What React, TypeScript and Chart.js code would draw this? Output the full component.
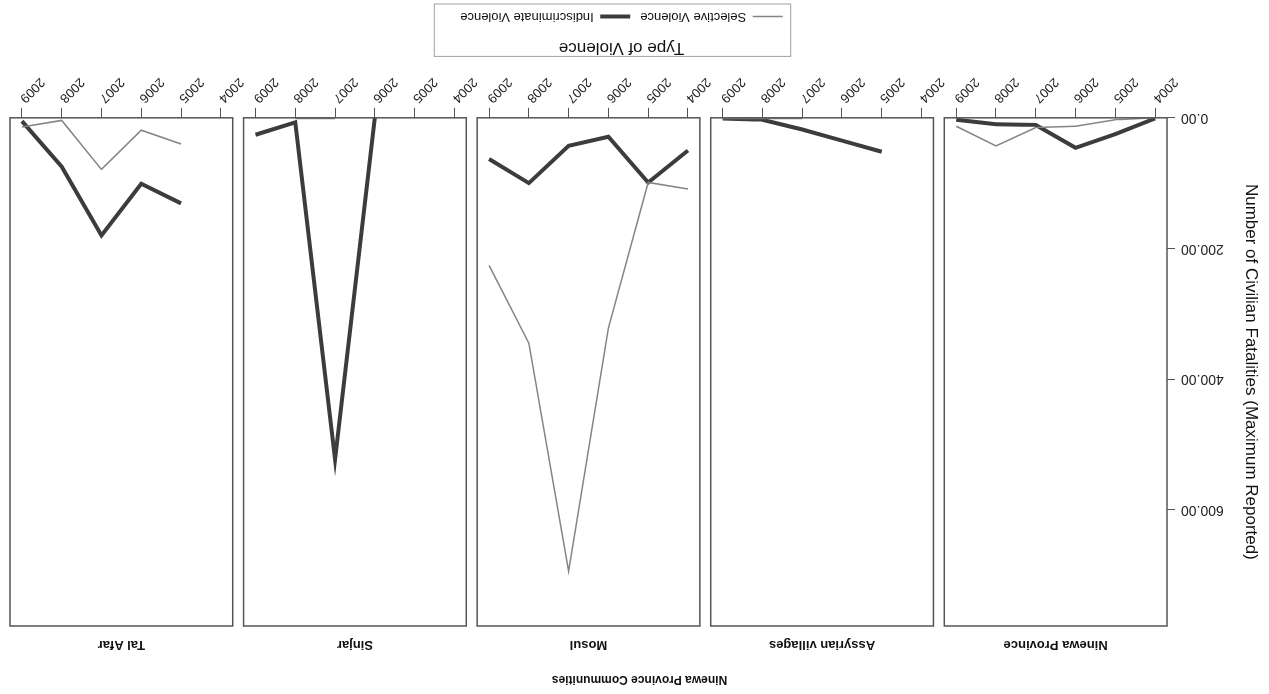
import React, { useEffect, useRef } from 'react';
import { Chart, registerables } from 'chart.js';

Chart.register(...registerables);

// ---------- data ----------
const YEARS = [2004, 2005, 2006, 2007, 2008, 2009];
const YEAR_LABELS = ['2004', '2005', '2006', '2007', '2008', '2009'];
const COMMUNITIES = ['Ninewa Province', 'Assyrian villages', 'Mosul', 'Sinjar', 'Tal Afar'];

const NINEWA_INDISCRIMINATE = [1, 25, 46, 11, 10, 3];
const NINEWA_SELECTIVE = [0, 3, 13, 15, 43, 13];
const ASSYRIAN_INDISCRIMINATE = [null, 52, 35, 18, 3, 1];
const ASSYRIAN_SELECTIVE = [null, null, null, 1, 1, 1];
const MOSUL_INDISCRIMINATE = [50, 99, 29, 43, 100, 63];
const MOSUL_SELECTIVE = [109, 99, 322, 694, 345, 226];
const SINJAR_INDISCRIMINATE = [null, null, 0, 523, 7, 26];
const SINJAR_SELECTIVE = [null, null, null, 1, 1, null];
const TALAFAR_INDISCRIMINATE = [null, 131, 101, 180, 75, 5];
const TALAFAR_SELECTIVE = [null, 40, 19, 79, 4, 14];

const Y_TICKS = [0, 200, 400, 600];
const Y_MAX = 778;

const SERIES_NAMES = ['Selective Violence', 'Indiscriminate Violence'];

// ---------- layout of the panel grid (in year units) ----------
const PANEL_EDGE = 0.3;
const PANEL_WIDTH = 5.6;
const PANEL_STRIDE = 5.873;
const X_MAX = (COMMUNITIES.length - 1) * PANEL_STRIDE + PANEL_WIDTH;
const LEGEND_SHIFT = 18;

const xPos = (panel: number, yearIdx: number) => panel * PANEL_STRIDE + PANEL_EDGE + yearIdx;

function buildSeries(lists: (number | null)[][]) {
  const pts: { x: number; y: number | null }[] = [];
  lists.forEach((vals, p) => {
    vals.forEach((v, i) => pts.push({ x: xPos(p, i), y: v }));
    if (p < lists.length - 1) {
      pts.push({ x: p * PANEL_STRIDE + PANEL_WIDTH + (PANEL_STRIDE - PANEL_WIDTH) / 2, y: null });
    }
  });
  return pts;
}

const FONT = '"Liberation Sans", Arial, Helvetica, sans-serif';

const panelPlugin = {
  id: 'panelBorders',
  afterDatasetsDraw(chart: any) {
    const { ctx, chartArea, scales } = chart;
    const xs = scales.x;
    ctx.save();
    ctx.strokeStyle = '#555';
    ctx.lineWidth = 1.5;
    COMMUNITIES.forEach((_, p) => {
      const x1 = xs.getPixelForValue(p * PANEL_STRIDE);
      const x2 = xs.getPixelForValue(p * PANEL_STRIDE + PANEL_WIDTH);
      ctx.strokeRect(x1, chartArea.top, x2 - x1, chartArea.bottom - chartArea.top);
    });
    ctx.restore();
  },
};

const legendBoxPlugin = {
  id: 'legendBox',
  afterLayout(chart: any) {
    const lg = chart.legend;
    if (!lg) return;
    lg.left += LEGEND_SHIFT;
    lg.right += LEGEND_SHIFT;
  },
  afterDraw(chart: any) {
    const lg = chart.legend;
    if (!lg || !lg.legendHitBoxes || !lg.legendHitBoxes.length) return;
    const hb = lg.legendHitBoxes;
    const left = Math.min(...hb.map((h: any) => h.left)) - 8;
    const right = Math.max(...hb.map((h: any) => h.left + h.width)) + 26;
    const { ctx } = chart;
    ctx.save();
    ctx.strokeStyle = '#a0a0a0';
    ctx.lineWidth = 1;
    ctx.strokeRect(left, lg.top + 8, right - left, lg.bottom - lg.top - 12);
    ctx.restore();
  },
};

export default function App() {
  const ref = useRef<HTMLCanvasElement | null>(null);

  useEffect(() => {
    if (!ref.current) return;
    Chart.defaults.font.family = FONT;
    const selective = buildSeries([
      NINEWA_SELECTIVE,
      ASSYRIAN_SELECTIVE,
      MOSUL_SELECTIVE,
      SINJAR_SELECTIVE,
      TALAFAR_SELECTIVE,
    ]);
    const indiscriminate = buildSeries([
      NINEWA_INDISCRIMINATE,
      ASSYRIAN_INDISCRIMINATE,
      MOSUL_INDISCRIMINATE,
      SINJAR_INDISCRIMINATE,
      TALAFAR_INDISCRIMINATE,
    ]);
    const yearTickValues: number[] = [];
    COMMUNITIES.forEach((_, p) => YEARS.forEach((__, i) => yearTickValues.push(xPos(p, i))));

    const chart = new Chart(ref.current, {
      type: 'line',
      data: {
        datasets: [
          {
            label: SERIES_NAMES[0],
            data: selective as any,
            borderColor: '#858585',
            backgroundColor: '#858585',
            borderWidth: 1.5,
            pointRadius: 0,
            pointStyle: 'line',
            spanGaps: false,
          },
          {
            label: SERIES_NAMES[1],
            data: indiscriminate as any,
            borderColor: '#3c3c3c',
            backgroundColor: '#3c3c3c',
            borderWidth: 4,
            pointRadius: 0,
            pointStyle: 'line',
            spanGaps: false,
          },
        ],
      },
      options: {
        animation: false,
        responsive: false,
        layout: { padding: { left: 0, right: 10, top: 0, bottom: 0 } },
        plugins: {
          title: {
            display: true,
            text: 'Ninewa Province Communities',
            color: '#111',
            font: { size: 12, weight: 'bold' },
            padding: { top: 7, bottom: 0 },
          },
          legend: {
            display: true,
            position: 'bottom',
            labels: {
              usePointStyle: true,
              pointStyleWidth: 30,
              boxHeight: 13,
              padding: 10,
              color: '#111',
              font: { size: 13 },
            },
            title: {
              display: true,
              text: 'Type of Violence',
              color: '#111',
              font: { size: 17 },
              padding: { top: 8, bottom: 3 },
            },
          },
          tooltip: { enabled: false },
        },
        scales: {
          x: {
            type: 'linear',
            position: 'bottom',
            min: 0,
            max: X_MAX,
            afterBuildTicks: (s: any) => {
              s.ticks = yearTickValues.map((v) => ({ value: v }));
            },
            afterFit: (s: any) => {
              s.height = 53.4;
            },
            ticks: {
              autoSkip: false,
              minRotation: 45,
              maxRotation: 45,
              padding: 2,
              color: '#222',
              font: { size: 13 },
              callback: (_v: any, i: number) => YEAR_LABELS[i % YEAR_LABELS.length],
            },
            grid: { drawOnChartArea: false, drawTicks: true, tickLength: 10, color: '#555' },
            border: { display: false },
          },
          x2: {
            type: 'linear',
            position: 'top',
            min: 0,
            max: X_MAX,
            afterBuildTicks: (s: any) => {
              s.ticks = COMMUNITIES.map((_, p) => ({ value: p * PANEL_STRIDE + PANEL_WIDTH / 2 }));
            },
            afterFit: (s: any) => {
              s.height = 46.6;
            },
            ticks: {
              autoSkip: false,
              minRotation: 0,
              maxRotation: 0,
              padding: 11,
              color: '#111',
              font: { size: 13, weight: 'bold' },
              callback: (_v: any, i: number) => COMMUNITIES[i],
            },
            grid: { display: false, drawTicks: false },
            border: { display: false },
          },
          y: {
            type: 'linear',
            min: 0,
            max: Y_MAX,
            afterBuildTicks: (s: any) => {
              s.ticks = Y_TICKS.map((v) => ({ value: v }));
            },
            afterFit: (s: any) => {
              s.width = 102;
            },
            ticks: {
              color: '#222',
              padding: 6,
              font: { size: 14 },
              callback: (v: any) => Number(v).toFixed(2),
            },
            grid: { drawOnChartArea: false, tickLength: 8, color: '#555' },
            border: { display: false },
            title: {
              display: true,
              text: 'Number of Civilian Fatalities (Maximum Reported)',
              color: '#111',
              font: { size: 17 },
              padding: { top: 8, bottom: 0 },
            },
          },
        },
      } as any,
      plugins: [panelPlugin, legendBoxPlugin],
    });
    return () => chart.destroy();
  }, []);

  return (
    <div
      style={{
        position: 'absolute',
        left: 0,
        top: 0,
        width: 1269,
        height: 694,
        background: '#fff',
        transform: 'rotate(180deg)',
      }}
    >
      <canvas ref={ref} width={1269} height={694} style={{ display: 'block', width: 1269, height: 694 }} />
    </div>
  );
}
